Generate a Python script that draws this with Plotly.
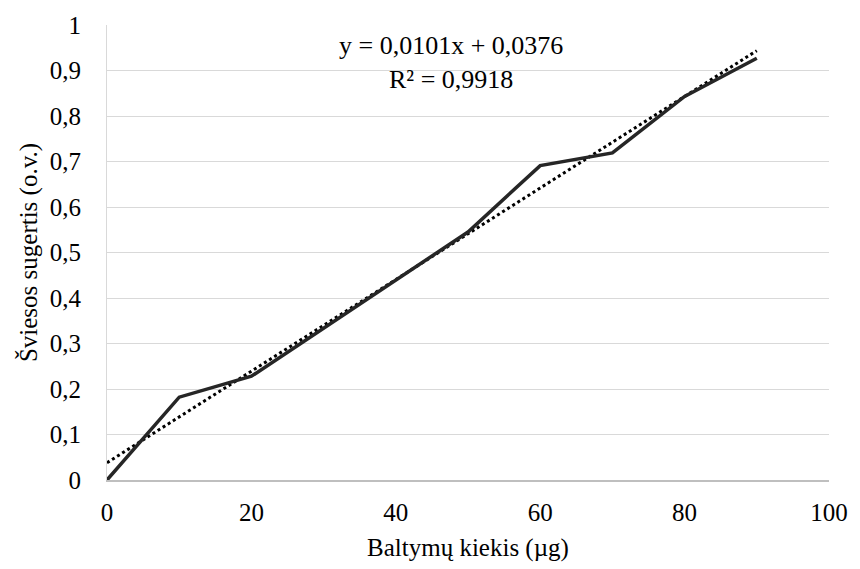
import numpy as np
import plotly.graph_objects as go

# Data
protein_ug = [0, 10, 20, 30, 40, 50, 60, 70, 80, 90]
absorbance = [0, 0.182, 0.228, 0.333, 0.44, 0.545, 0.691, 0.719, 0.843, 0.927]
x_ticks = [0, 20, 40, 60, 80, 100]
x_tick_labels = ["0", "20", "40", "60", "80", "100"]
y_ticks = [0, 0.1, 0.2, 0.3, 0.4, 0.5, 0.6, 0.7, 0.8, 0.9, 1]
y_tick_labels = ["0", "0,1", "0,2", "0,3", "0,4", "0,5", "0,6", "0,7", "0,8", "0,9", "1"]
eq_text = "y = 0,0101x + 0,0376<br>R² = 0,9918"

# Linear trend (least squares fit of the data)
slope, intercept = np.polyfit(protein_ug, absorbance, 1)
trend_x = [protein_ug[0], protein_ug[-1]]
trend_y = [slope * v + intercept for v in trend_x]

FONT = "Times New Roman, Liberation Serif, DejaVu Serif, serif"

fig = go.Figure()
fig.add_trace(go.Scatter(
    x=trend_x, y=trend_y, mode="lines",
    line=dict(color="#000000", width=3, dash="dot"),
    showlegend=False, hoverinfo="skip"))
fig.add_trace(go.Scatter(
    x=protein_ug, y=absorbance, mode="lines",
    line=dict(color="#262626", width=3.5),
    showlegend=False))

fig.add_annotation(
    x=47.6, y=0.918, xref="x", yref="y", text=eq_text, showarrow=False,
    align="center", font=dict(family=FONT, size=26, color="#000000"))

fig.update_layout(
    width=860, height=569,
    margin=dict(l=107, r=24, t=25, b=87),
    paper_bgcolor="white", plot_bgcolor="white",
    font=dict(family=FONT, size=25, color="#000000"),
    xaxis=dict(
        range=[0, 100], tickmode="array", tickvals=x_ticks, ticktext=x_tick_labels,
        showgrid=False, zeroline=False, showline=True, linecolor="#bfbfbf", linewidth=1.5,
        ticks="", ticklabelstandoff=9,
        tickfont=dict(family=FONT, size=25, color="#000000"),
        title=dict(text="Baltymų kiekis (µg)", font=dict(family=FONT, size=25, color="#000000"), standoff=14)),
    yaxis=dict(
        range=[0, 1], tickmode="array", tickvals=y_ticks, ticktext=y_tick_labels,
        showgrid=True, gridcolor="#d9d9d9", gridwidth=1.2, zeroline=False,
        showline=True, linecolor="#d9d9d9", linewidth=1.2,
        ticks="", ticklabelstandoff=20,
        tickfont=dict(family=FONT, size=25, color="#000000"),
        title=dict(text="Šviesos sugertis (o.v.)", font=dict(family=FONT, size=25, color="#000000"), standoff=4)),
)

fig.write_html("out.html")
